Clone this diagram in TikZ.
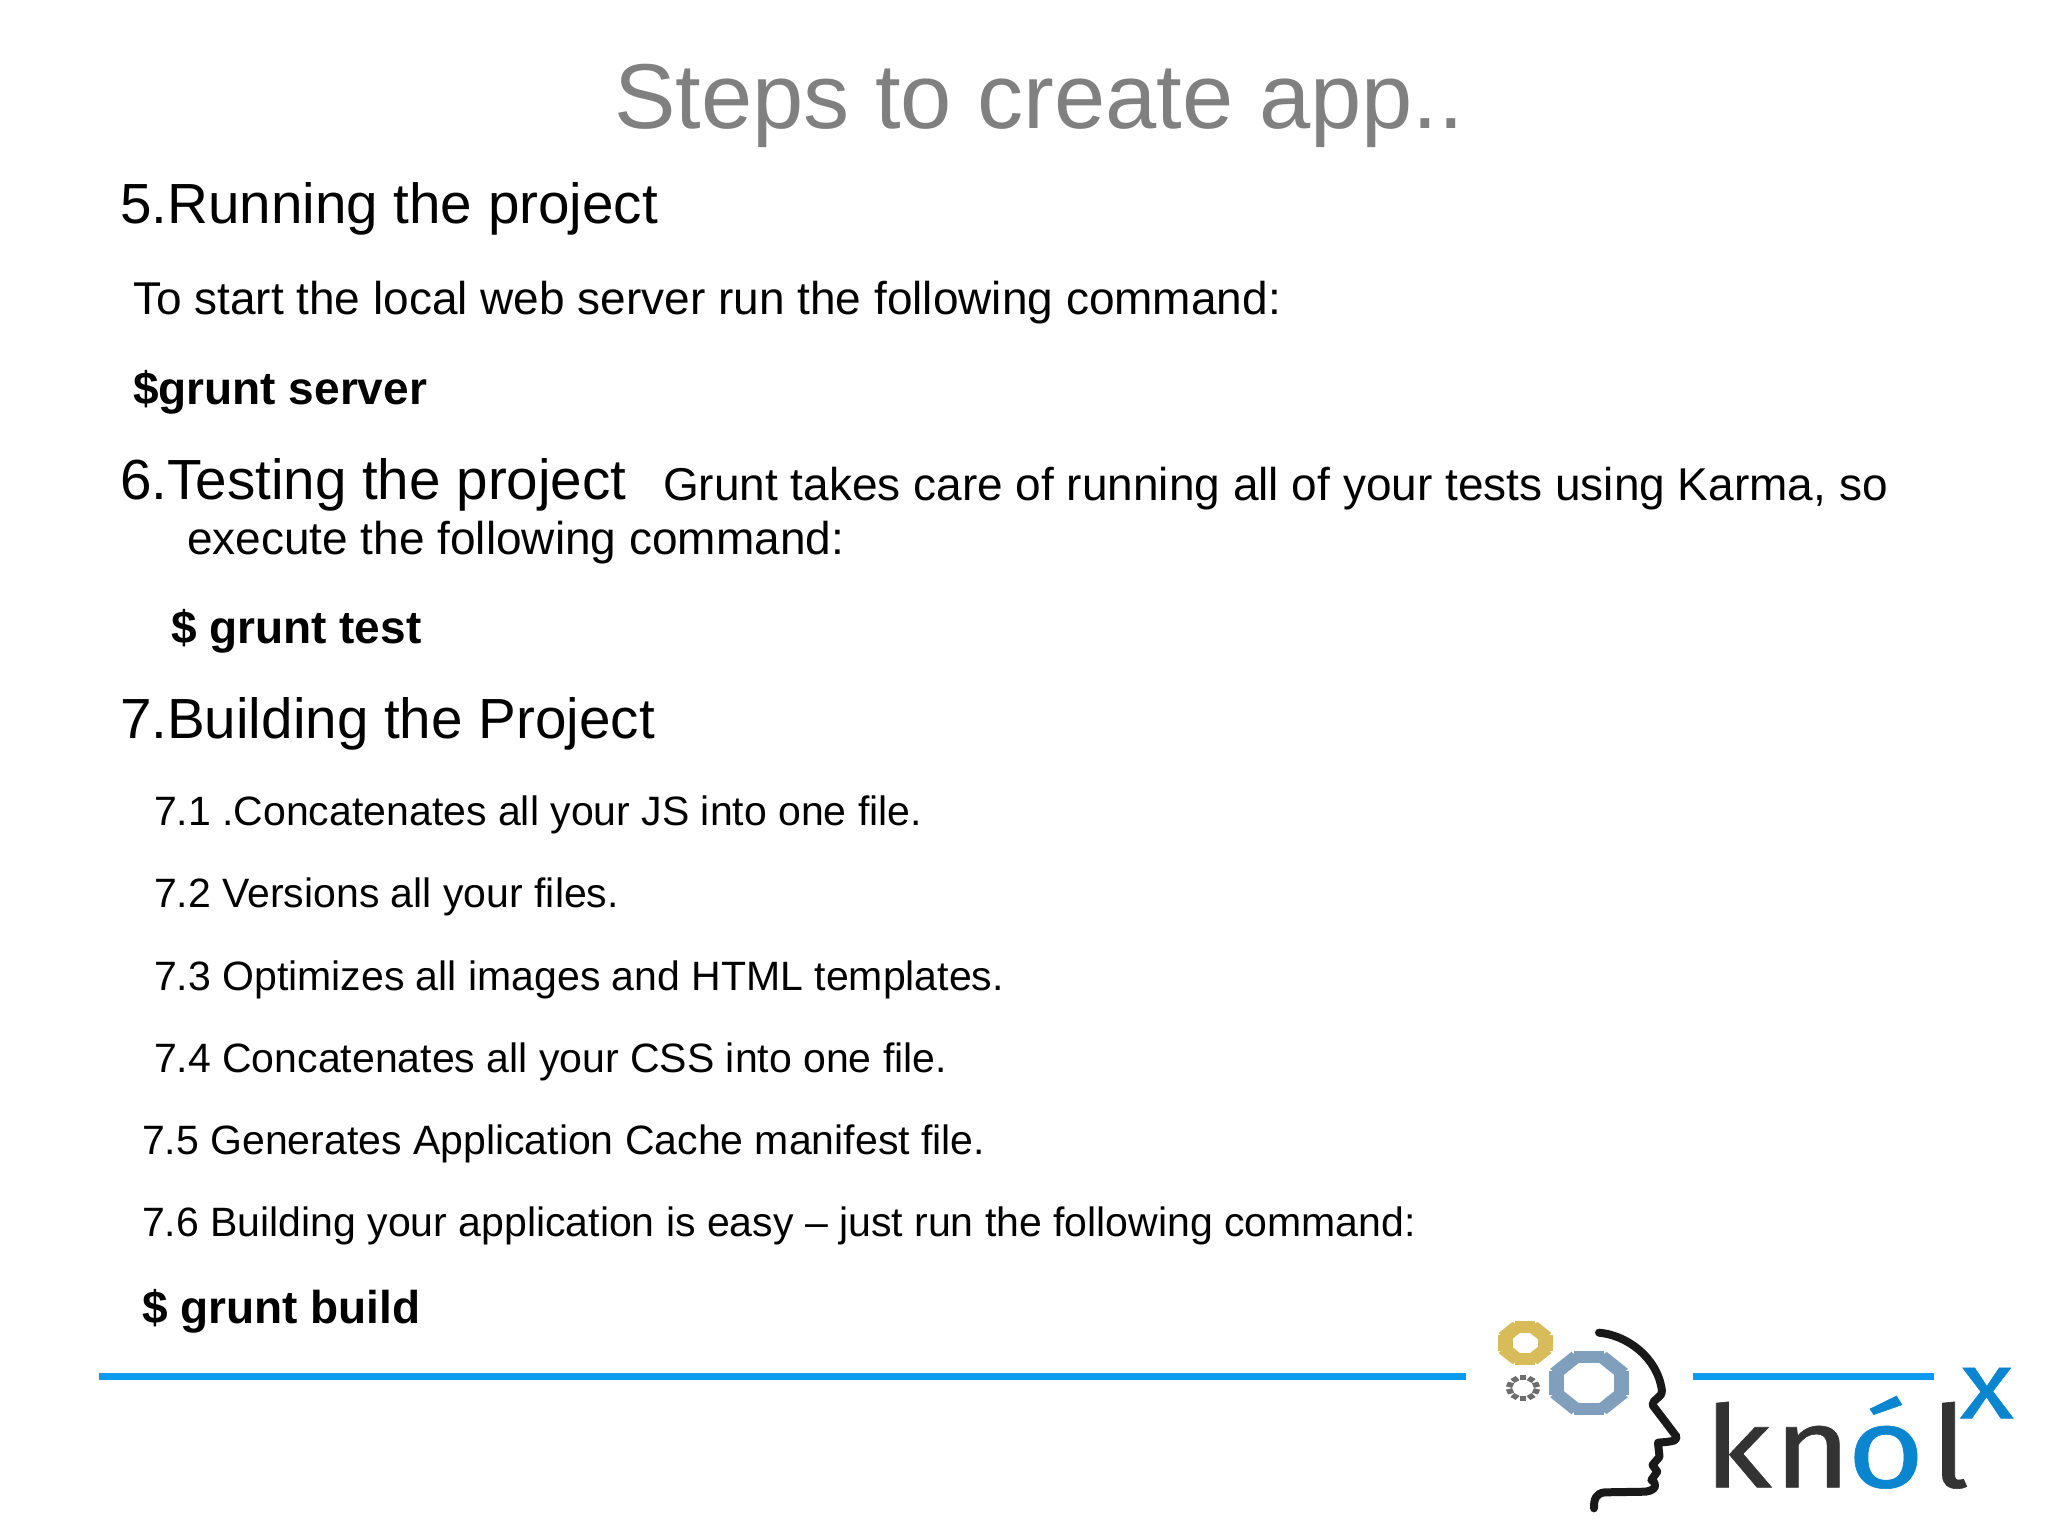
\documentclass[tikz,border=0pt]{standalone}
\usepackage{fontspec}
\setmainfont{Liberation Sans}
\newfontfamily\logofont[FakeBold=0.5]{Fira Sans}
\usepackage{xcolor}
\definecolor{titlegray}{HTML}{808080}
\definecolor{rulecolor}{HTML}{0A9BF0}
\definecolor{logoblue}{HTML}{0A85D0}
\definecolor{logodark}{HTML}{333333}
\definecolor{geargold}{HTML}{D9BC5A}
\definecolor{gearblue}{HTML}{7F9FBD}
\definecolor{geargray}{HTML}{6D6D6D}

\begin{document}
\begin{tikzpicture}[x=0.5pt, y=-0.5pt]
    \useasboundingbox (0,0) rectangle (2048,1536);
    \begin{scope}[every node/.style={inner sep=0, outer sep=0, anchor=base west, text=black}, titletext/.style={font=\fontsize{46.07}{50}\selectfont, text=titlegray}, headtext/.style={font=\fontsize{28.3}{32}\selectfont}, bodytext/.style={font=\fontsize{23}{26}\selectfont}, subtext/.style={font=\fontsize{20.5}{25}\selectfont}, cmdtext/.style={font=\fontsize{23}{28}\selectfont\bfseries}]
        \node [titletext] (title) at (614,128) {Steps to create app..};
        \node [headtext] (run) at (120,223.5) {5.Running the project};
        \node [bodytext] (runtext) at (133,314.7) {To start the local web server run the following command:};
        \node [cmdtext] (runcmd) at (133,404) {\$grunt server};
        \node [headtext] (test) at (120,499.5) {6.Testing the project};
        \node [bodytext] (testa) at (663,500) {Grunt takes care of running all of your tests using Karma, so};
        \node [bodytext] (testb) at (187,554) {execute the following command:};
        \node [cmdtext] (testcmd) at (171,643) {\$ grunt test};
        \node [headtext] (build) at (120,738.7) {7.Building the Project};
        \node [subtext] (builda) at (154,825) {7.1 .Concatenates all your JS into one file.};
        \node [subtext] (buildb) at (154,907) {7.2 Versions all your files.};
        \node [subtext] (buildc) at (154,990) {7.3 Optimizes all images and HTML templates.};
        \node [subtext] (buildd) at (154,1072) {7.4 Concatenates all your CSS into one file.};
        \node [subtext] (builde) at (142,1154) {7.5 Generates Application Cache manifest file.};
        \node [subtext] (buildf) at (142,1236) {7.6 Building your application is easy -- just run the following command:};
        \node [cmdtext] (buildcmd) at (142,1323) {\$ grunt build};
    \end{scope}
    \coordinate (ruleA) at (99,1376);
    \coordinate (ruleB) at (1466,1376);
    \coordinate (ruleC) at (1693,1376);
    \coordinate (ruleD) at (1934,1376);
    \draw [rulecolor, line width=3.5pt] (ruleA) -- (ruleB);
    \draw [rulecolor, line width=3.5pt] (ruleC) -- (ruleD);
    % gears, stretched sideways
    \begin{scope}[shift={(1525,1343)}, xscale=1.25]
        \foreach \a in {0,45,...,315} {\fill [geargold, rotate=\a] (-8,-22) rectangle (8,-10);}
    \end{scope}
    \begin{scope}[shift={(1589,1383)}, xscale=1.25]
        \foreach \a in {0,45,...,315} {\fill [gearblue, rotate=\a] (-12,-32) rectangle (12,-20);}
    \end{scope}
    \begin{scope}[shift={(1523,1388)}, xscale=1.3]
        \foreach \a in {0,36,...,324} {\fill [geargray, rotate=\a] (-2.5,-13) rectangle (2.5,-8);}
    \end{scope}
    % head and letters, in crop coordinates
    \begin{scope}[shift={(1440,1290)}, xscale=0.3878, yscale=1/3, every node/.style={inner sep=0, outer sep=0, anchor=base west, transform shape, font=\logofont\fontsize{171}{180}\selectfont}]
        \draw [black!90, line width=4pt, line cap=round, line join=round] (410,128) .. controls (480,135) and (560,200) .. (572,300) .. controls (574,325) and (548,325) .. (548,345) -- (610,440) .. controls (612,455) and (590,455) .. (562,458) -- (566,500) -- (548,525) -- (560,545) -- (545,570) .. controls (560,580) and (560,600) .. (530,605) -- (425,607) .. controls (400,610) and (397,630) .. (397,655);
        \node [text=logodark] (letterk) at (680,592) {k};
        \node [text=logodark] (lettern) at (860,592) {n};
        \node [text=logoblue] (lettero) at (1050,592) {ó};
        \node [text=logodark] (letterl) at (1265,592) {l};
        \node [text=logoblue, font=\logofont\fontsize{144}{150}\selectfont] (letterx) at (1340,385) {x};
    \end{scope}
\end{tikzpicture}
\end{document}
